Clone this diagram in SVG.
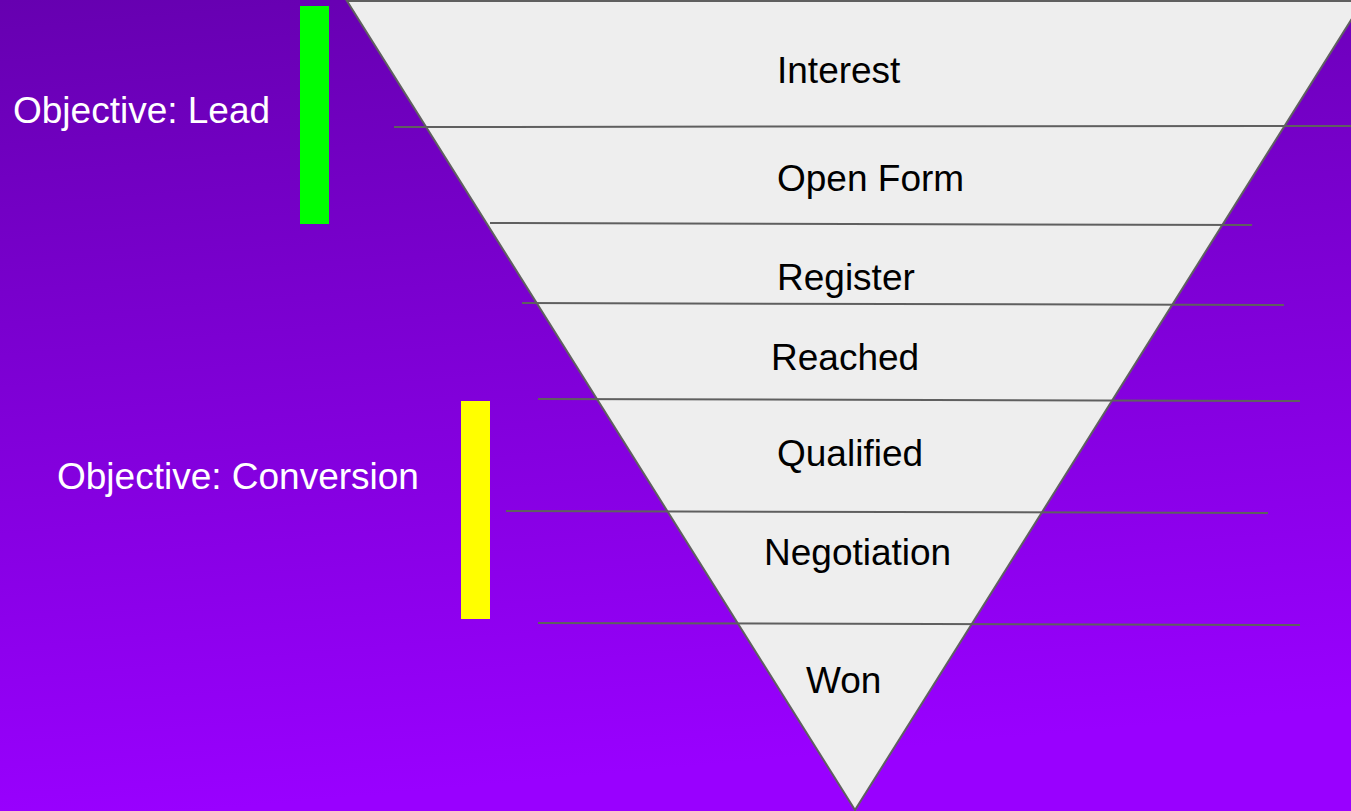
<svg xmlns="http://www.w3.org/2000/svg" width="1351" height="811" viewBox="0 0 1351 811">
  <defs>
    <linearGradient id="bg" x1="0" y1="0" x2="0.15" y2="1">
      <stop offset="0" stop-color="#6600b0"/>
      <stop offset="1" stop-color="#9900ff"/>
    </linearGradient>
    <style>
      .stage { fill: #000000; font-family: "Liberation Sans", Arial, sans-serif; font-size: 37px; }
      .objective { fill: #ffffff; font-family: "Liberation Sans", Arial, sans-serif; font-size: 37px; }
      .divider { stroke: #5f5f5f; stroke-width: 2; fill: none; }
      .funnel { fill: #eeeeee; stroke: #5f5f5f; stroke-width: 2; }
    </style>
  </defs>

  <!-- background -->
  <rect x="0" y="0" width="1351" height="811" fill="url(#bg)"/>

  <!-- funnel body -->
  <g id="funnel">
    <polygon class="funnel" points="347,1 1363,1 855,810"/>
  </g>

  <!-- stage dividers -->
  <g id="connectors">
    <line class="divider" x1="394" y1="127" x2="1351" y2="126"/>
    <line class="divider" x1="490" y1="223" x2="1252" y2="225"/>
    <line class="divider" x1="522" y1="303" x2="1284" y2="305"/>
    <line class="divider" x1="538" y1="399" x2="1300" y2="401"/>
    <line class="divider" x1="506" y1="511" x2="1268" y2="513"/>
    <line class="divider" x1="538" y1="623" x2="1300" y2="625"/>
  </g>

  <!-- stages -->
  <g id="stage-interest"><text class="stage" x="777" y="83">Interest</text></g>
  <g id="stage-open-form"><text class="stage" x="777" y="191">Open Form</text></g>
  <g id="stage-register"><text class="stage" x="777" y="290">Register</text></g>
  <g id="stage-reached"><text class="stage" x="771" y="370">Reached</text></g>
  <g id="stage-qualified"><text class="stage" x="777" y="466">Qualified</text></g>
  <g id="stage-negotiation"><text class="stage" x="764" y="565">Negotiation</text></g>
  <g id="stage-won"><text class="stage" x="806" y="693">Won</text></g>

  <!-- objectives -->
  <g id="objective-lead">
    <rect x="300" y="6" width="29" height="218" fill="#00ff00"/>
    <text class="objective" x="13" y="123">Objective: Lead</text>
  </g>
  <g id="objective-conversion">
    <rect x="461" y="401" width="29" height="218" fill="#ffff00"/>
    <text class="objective" x="57" y="489">Objective: Conversion</text>
  </g>
</svg>
